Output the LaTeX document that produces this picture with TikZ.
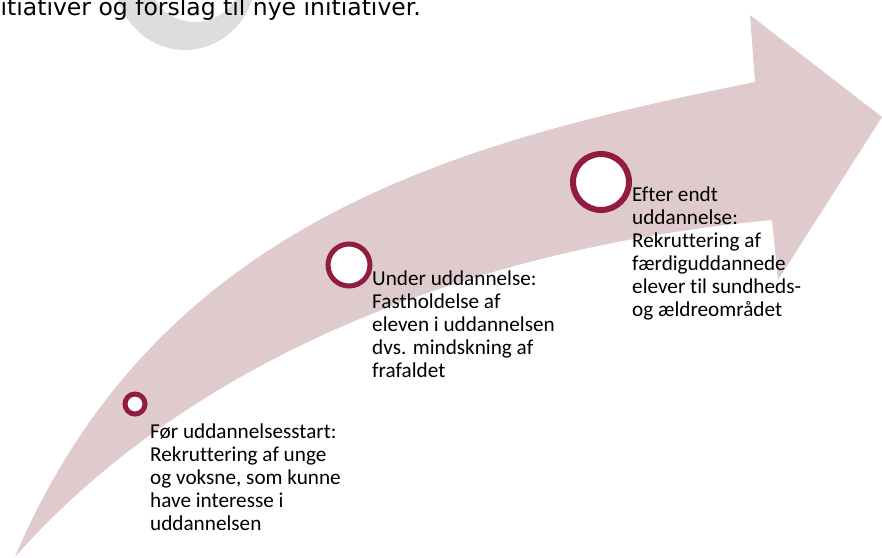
\documentclass[tikz,border=0pt]{standalone}
\usepackage{fontspec}
\setmainfont{Carlito}[Ligatures=NoCommon]
\newfontfamily\headfont{DejaVu Sans}
\definecolor{arrowpink}{RGB}{223,203,206}
\definecolor{ringred}{RGB}{145,28,64}
\definecolor{markgray}{RGB}{221,221,221}

\begin{document}
\begin{tikzpicture}[x=1pt, y=-1pt,
  ring/.style={circle, draw=ringred, fill=white, inner sep=0pt},
  % anchored at the baseline of the last line
  stagetext/.style={align=left, anchor=base west, inner sep=0pt,
    font=\fontsize{21.2}{23}\selectfont, text=black},
  headtext/.style={inner sep=0pt, font=\headfont\fontsize{23.5}{28}\selectfont, text=black},
]
\useasboundingbox (0,0) rectangle (882,557);

\begin{scope}
  \clip (0,0) rectangle (882,557);
  % grey ring fragment behind the heading line
  \fill[markgray, even odd rule]
    (185,-25) ellipse [x radius=71pt, y radius=75pt]
    (195,-20) ellipse [x radius=45pt, y radius=42pt];
  \node[headtext, anchor=base east] (head) at (421,15)
    {initiativer og forslag til nye initiativer.};
\end{scope}

% curved arrow
\coordinate (tail) at (15,557);
\coordinate (upnotch) at (755,82);
\coordinate (upbarb) at (750,15);
\coordinate (tip) at (882,117);
\coordinate (lowbarb) at (778,280);
\coordinate (lownotch) at (772,220);
\fill[arrowpink] (tail) .. controls (160,215) and (470,140) .. (upnotch)
  -- (upbarb) -- (tip) -- (lowbarb) -- (lownotch)
  .. controls (450,250) and (180,370) .. (tail) -- cycle;

% stage markers
\node[ring, line width=5pt, minimum size=20pt] (c1) at (135,404) {};
\node[ring, line width=5pt, minimum size=42pt] (c2) at (349,265) {};
\node[ring, line width=6pt, minimum size=56pt] (c3) at (601,182) {};

% stage descriptions
\node[stagetext] (t1) at (150,530) {Før uddannelsesstart:\\Rekruttering af unge\\og voksne, som kunne\\have interesse i\\uddannelsen};
\node[stagetext] (t2) at (372,377) {Under uddannelse:\\Fastholdelse af\\eleven i uddannelsen\\dvs. mindskning af\\frafaldet};
\node[stagetext] (t3) at (632,316) {Efter endt\\uddannelse:\\Rekruttering af\\færdiguddannede\\elever til sundheds-\\og ældreområdet};
\end{tikzpicture}
\end{document}
